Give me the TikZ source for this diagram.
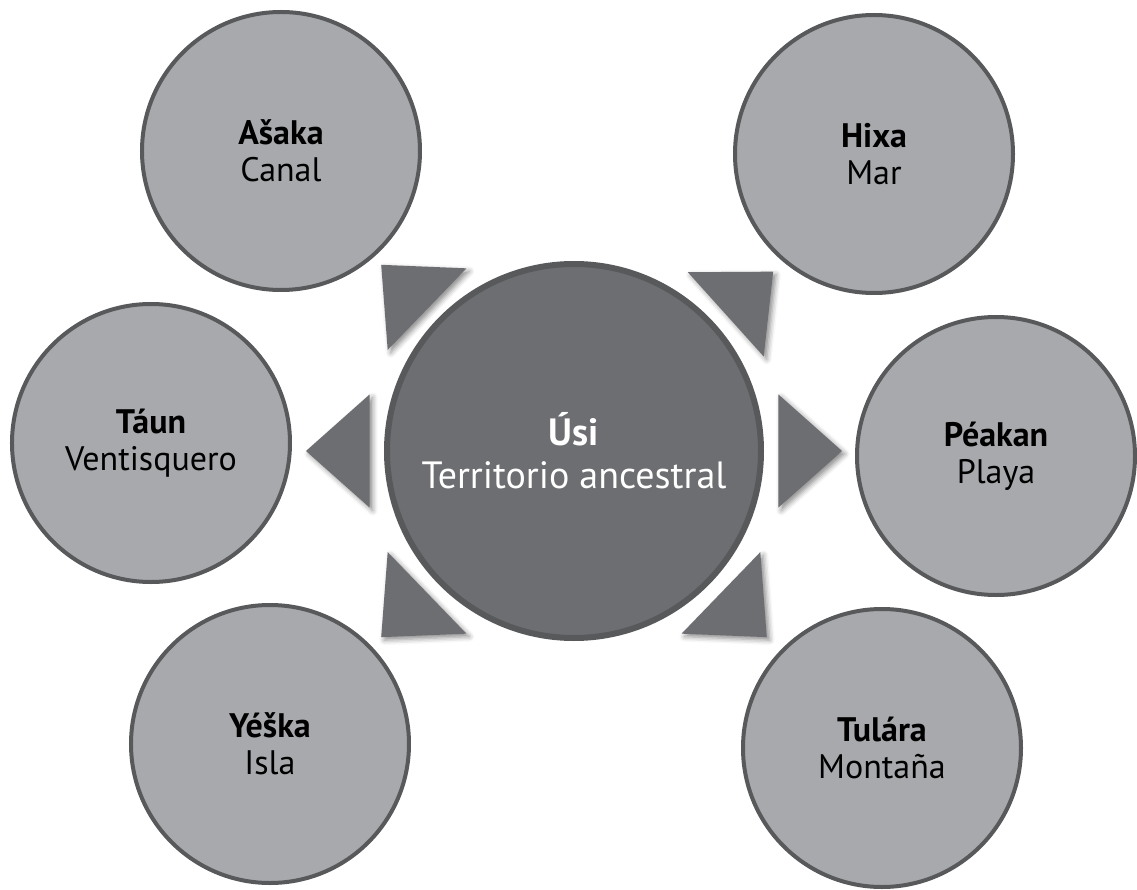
\documentclass[tikz,border=0pt]{standalone}
\usepackage{fontspec}
\setmainfont{PT Sans}
\usetikzlibrary{shadows.blur}
\definecolor{hubgray}{HTML}{6D6E71}
\definecolor{rimgray}{HTML}{58595B}
\definecolor{leafgray}{HTML}{A7A9AC}
\begin{document}
\begin{tikzpicture}[x=1pt,y=1pt,
	hub/.style={circle,draw=rimgray,line width=6pt,fill=hubgray,minimum size=374pt,
		inner sep=0pt,align=center,text=white,font=\fontsize{38}{43}\selectfont},
	leaf/.style={circle,draw=rimgray,line width=4pt,fill=leafgray,minimum size=278pt,
		inner sep=0pt,align=center,text=black,font=\fontsize{34}{37}\selectfont},
	pointer/.style={fill=hubgray,blur shadow={shadow xshift=3pt,shadow yshift=-3pt,
		shadow blur radius=5pt,shadow opacity=45}}]
	\useasboundingbox (-574,-438) rectangle (563,451);
			\node[hub](usi) at (0,0) {\textbf{Úsi}\\Territorio ancestral};
				\node[leaf](asaka) at (-293,300) {\textbf{Ašaka}\\Canal};
				\node[leaf](hixa) at (300,297) {\textbf{Hixa}\\Mar};
				\node[leaf](taun) at (-423,8) {\textbf{Táun}\\Ventisquero};
				\node[leaf](peakan) at (422,-5) {\textbf{Péakan}\\Playa};
				\node[leaf](yeska) at (-304,-293) {\textbf{Yéška}\\Isla};
				\node[leaf](tulara) at (308,-297) {\textbf{Tulára}\\Montaña};
				% pointers round the hub
				\foreach \a in {136,42,180,0,224,316}
				\fill[pointer] (\a+15.5:212) -- (\a:268) --
				(\a-15.5:212) -- cycle;
		\end{tikzpicture}
\end{document}
